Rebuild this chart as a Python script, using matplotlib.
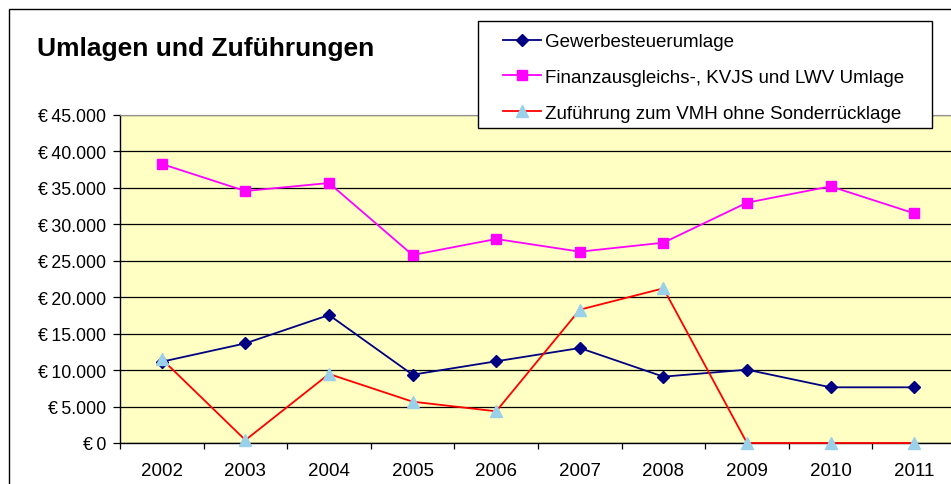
import matplotlib
matplotlib.use("Agg")
import matplotlib.pyplot as plt
from matplotlib.patches import Rectangle
from matplotlib.ticker import FuncFormatter, FixedLocator

plt.rcParams['font.family'] = ['Liberation Sans', 'DejaVu Sans']

# Daten
jahre = ['2002', '2003', '2004', '2005', '2006', '2007', '2008', '2009', '2010', '2011']
gewerbesteuerumlage = [11150, 13670, 17560, 9370, 11210, 13030, 9100, 10060, 7640, 7640]
finanzausgleich = [38280, 34570, 35670, 25790, 27990, 26250, 27480, 32970, 35210, 31510]
zufuehrung_vmh = [11520, 400, 9470, 5670, 4350, 18290, 21220, 0, 0, 0]

W, H = 951, 485
fig = plt.figure(figsize=(W / 100, H / 100), dpi=100)
fig.patch.set_facecolor('white')

# Plotbereich (rechts etwas über den Rand hinaus wie im Original)
ax = fig.add_axes([120 / W, 1 - 444 / H, (956 - 120) / W, (444 - 116) / H])
ax.set_facecolor('#FFFFC4')

x = list(range(len(jahre)))
ax.plot(x, gewerbesteuerumlage, color='#000080', lw=1.3, marker='D', ms=6,
        mfc='#000080', mec='#000080', label='Gewerbesteuerumlage', zorder=3)
ax.plot(x, finanzausgleich, color='#FF00FF', lw=1.3, marker='s', ms=6.5,
        mfc='#FF00FF', mec='#FF00FF', label='Finanzausgleichs-, KVJS und LWV Umlage', zorder=3)
ax.plot(x, zufuehrung_vmh, color='#FF0000', lw=1.3, marker='^', ms=8,
        mfc='#9AD0EA', mec='#9AD0EA', label='Zuführung zum VMH ohne Sonderrücklage',
        zorder=4, clip_on=False)

ax.set_xlim(-0.5, len(jahre) - 0.5)
ax.set_ylim(0, 45000)
ax.set_yticks(range(0, 45001, 5000))
ax.yaxis.set_major_formatter(FuncFormatter(lambda v, p: '€\u2009' + f'{v:,.0f}'.replace(',', '.')))
ax.set_xticks(x)
ax.set_xticklabels(jahre)
ax.xaxis.set_minor_locator(FixedLocator([i + 0.5 for i in range(-1, len(jahre))]))

ax.grid(True, axis='y', color='black', lw=0.9)
ax.set_axisbelow(True)

ax.tick_params(axis='y', which='major', direction='out', length=5, width=0.9,
               pad=5, labelsize=12.8, colors='black')
ax.tick_params(axis='x', which='major', length=0, pad=14, labelsize=13.5)
ax.tick_params(axis='x', which='minor', direction='out', length=4, width=0.9)

for s in ['left', 'bottom']:
    ax.spines[s].set_color('black')
    ax.spines[s].set_linewidth(1)
ax.spines['top'].set_color('#909090')
ax.spines['right'].set_visible(False)

# Titel
fig.text(37 / W, 1 - 56 / H, 'Umlagen und Zuführungen', fontsize=19,
         fontweight='bold', ha='left', va='baseline')

# Rahmen um das Diagramm
fig.add_artist(Rectangle((8.5 / W, -0.2), 2, 1.2 - 10 / H, transform=fig.transFigure,
                         fill=False, edgecolor='black', lw=1))

# Legende
fig.add_artist(Rectangle((478 / W, 1 - 129 / H), (932 - 478) / W, (129 - 22) / H,
                         transform=fig.transFigure, facecolor='white',
                         edgecolor='black', lw=1, zorder=5))
leg = fig.legend(loc='upper left', bbox_to_anchor=(503 / W, 1 - 34 / H),
                 frameon=False, fontsize=13.5, handlelength=2.0,
                 handletextpad=0.22, labelspacing=1.0, borderpad=0,
                 borderaxespad=0)
leg.set_zorder(6)

fig.savefig('out.png', dpi=100)
